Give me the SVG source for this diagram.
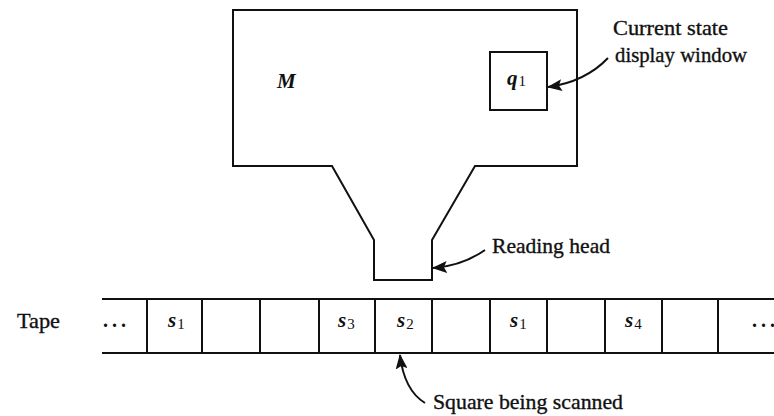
<svg xmlns="http://www.w3.org/2000/svg" width="774" height="416" viewBox="0 0 774 416">
<style>
.ln{fill:none;stroke:#111;stroke-width:2;stroke-linejoin:miter}
.lbl{font-family:"Liberation Serif","Times New Roman",serif;font-size:21px;fill:#111;stroke:#111;stroke-width:0.35}
.sym{font-family:"Liberation Serif","Times New Roman",serif;font-size:21px;font-weight:bold;font-style:italic;fill:#111}
.sub{font-family:"Liberation Serif","Times New Roman",serif;font-size:15px;fill:#111;font-style:normal;font-weight:normal}
.dots{font-family:"Liberation Serif","Times New Roman",serif;font-size:20px;fill:#111;font-weight:bold}
.arr{fill:none;stroke:#111;stroke-width:2}
</style>
<defs>
<marker id="ah" viewBox="0 0 15 12" refX="14" refY="6" markerWidth="15" markerHeight="12" markerUnits="userSpaceOnUse" orient="auto">
<path d="M0,0 L15,6 L0,12 L3,6 Z" fill="#111"/>
</marker>
</defs>
<rect width="774" height="416" fill="#fff"/>
<g id="machine">
<path class="ln" d="M233,10 H577 V166 H475 L432,240 V280 H374 V240 L332,166 H233 Z"/>
<text class="sym" x="277" y="88">M</text>
</g>
<g id="state-window">
<rect class="ln" x="490" y="52" width="57" height="58"/>
<text class="sym" x="507" y="85">q<tspan class="sub" dx="1" dy="1">1</tspan></text>
</g>
<g id="tape">
<path class="ln" d="M102,299 H774 M102,353 H774 M147,299 V353 M202,299 V353 M260,299 V353 M319,299 V353 M375,299 V353 M432,299 V353 M490,299 V353 M547,299 V353 M605,299 V353 M662,299 V353 M718,299 V353"/>
<text class="dots" x="103 112 121" y="327">...</text>
<text class="sym" x="168" y="327">s<tspan class="sub" dx="1" dy="2">1</tspan></text>
<text class="sym" x="338" y="327">s<tspan class="sub" dx="1" dy="2">3</tspan></text>
<text class="sym" x="397" y="327">s<tspan class="sub" dx="1" dy="2">2</tspan></text>
<text class="sym" x="510" y="327">s<tspan class="sub" dx="1" dy="2">1</tspan></text>
<text class="sym" x="625" y="327">s<tspan class="sub" dx="1" dy="2">4</tspan></text>
<text class="dots" x="752 761 770" y="327">...</text>
</g>
<g id="labels">
<text class="lbl" x="17" y="328" textLength="43" lengthAdjust="spacingAndGlyphs">Tape</text>
<text class="lbl" x="613" y="35" textLength="115" lengthAdjust="spacingAndGlyphs">Current state</text>
<text class="lbl" x="615" y="62" textLength="132" lengthAdjust="spacingAndGlyphs">display window</text>
<text class="lbl" x="492" y="253" textLength="118" lengthAdjust="spacingAndGlyphs">Reading head</text>
<text class="lbl" x="433" y="409" textLength="190" lengthAdjust="spacingAndGlyphs">Square being scanned</text>
</g>
<g id="connectors">
<path class="arr" d="M608,58 Q585,82 548,87" marker-end="url(#ah)"/>
<path class="arr" d="M485,250 Q462,266 433,268" marker-end="url(#ah)"/>
<path class="arr" d="M425,403 Q404,390 400,355" marker-end="url(#ah)"/>
</g>
</svg>
